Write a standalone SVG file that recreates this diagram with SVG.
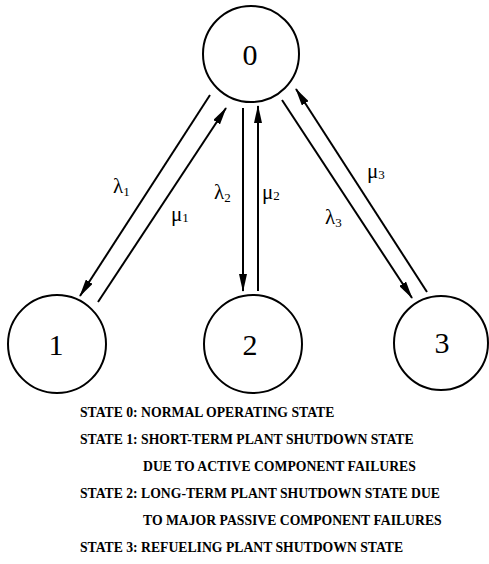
<svg xmlns="http://www.w3.org/2000/svg" width="489" height="564" viewBox="0 0 489 564">
<defs>
<marker id="ah" markerWidth="18" markerHeight="8" refX="17" refY="4" orient="auto" markerUnits="userSpaceOnUse">
<path d="M0,0 L18,4 L0,8 Z" fill="#000"/>
</marker>
</defs>
<style>
.node circle{fill:#fff;stroke:#000;stroke-width:2}
.node text{font-size:30px;text-anchor:middle;fill:#000}
.conn line{stroke:#000;stroke-width:2;marker-end:url(#ah)}
.lbl{font-size:21px;fill:#000}
.sub{font-size:13px}
.legend{font-weight:bold;font-size:13.7px;fill:#000}
</style>
<rect width="489" height="564" fill="#fff"/>
<g class="conn" id="connectors">
<line x1="210" y1="95" x2="80" y2="296"/>
<line x1="98" y1="302" x2="226" y2="108"/>
<line x1="243" y1="108" x2="243" y2="291"/>
<line x1="258" y1="291" x2="258" y2="106"/>
<line x1="282" y1="100" x2="412" y2="298"/>
<line x1="427" y1="292" x2="296" y2="89"/>
</g>
<g id="labels" font-family="'Liberation Serif', 'DejaVu Serif', serif">
<text class="lbl" x="113" y="193">λ<tspan class="sub" dy="3">1</tspan></text>
<text class="lbl" x="171" y="221">μ<tspan class="sub" dy="1">1</tspan></text>
<text class="lbl" x="214" y="199">λ<tspan class="sub" dy="3">2</tspan></text>
<text class="lbl" x="262" y="199">μ<tspan class="sub" dy="1">2</tspan></text>
<text class="lbl" x="367" y="178">μ<tspan class="sub" dy="1">3</tspan></text>
<text class="lbl" x="325" y="224">λ<tspan class="sub" dy="3">3</tspan></text>
</g>
<g class="node" id="node0" font-family="'Liberation Serif', 'DejaVu Serif', serif"><circle cx="251" cy="54" r="48"/><text x="250" y="65">0</text></g>
<g class="node" id="node1" font-family="'Liberation Serif', 'DejaVu Serif', serif"><circle cx="57" cy="344" r="49"/><text x="56" y="355">1</text></g>
<g class="node" id="node2" font-family="'Liberation Serif', 'DejaVu Serif', serif"><circle cx="253" cy="344" r="49"/><text x="250" y="355">2</text></g>
<g class="node" id="node3" font-family="'Liberation Serif', 'DejaVu Serif', serif"><circle cx="441" cy="343" r="47"/><text x="442" y="353">3</text></g>
<g id="legend" class="legend" font-family="'Liberation Serif', 'DejaVu Serif', serif">
<text x="80" y="417">STATE 0: NORMAL OPERATING STATE</text>
<text x="80" y="444">STATE 1: SHORT-TERM PLANT SHUTDOWN STATE</text>
<text x="143" y="471">DUE TO ACTIVE COMPONENT FAILURES</text>
<text x="80" y="498">STATE 2: LONG-TERM PLANT SHUTDOWN STATE DUE</text>
<text x="143" y="525">TO MAJOR PASSIVE COMPONENT FAILURES</text>
<text x="80" y="552">STATE 3: REFUELING PLANT SHUTDOWN STATE</text>
</g>
</svg>
